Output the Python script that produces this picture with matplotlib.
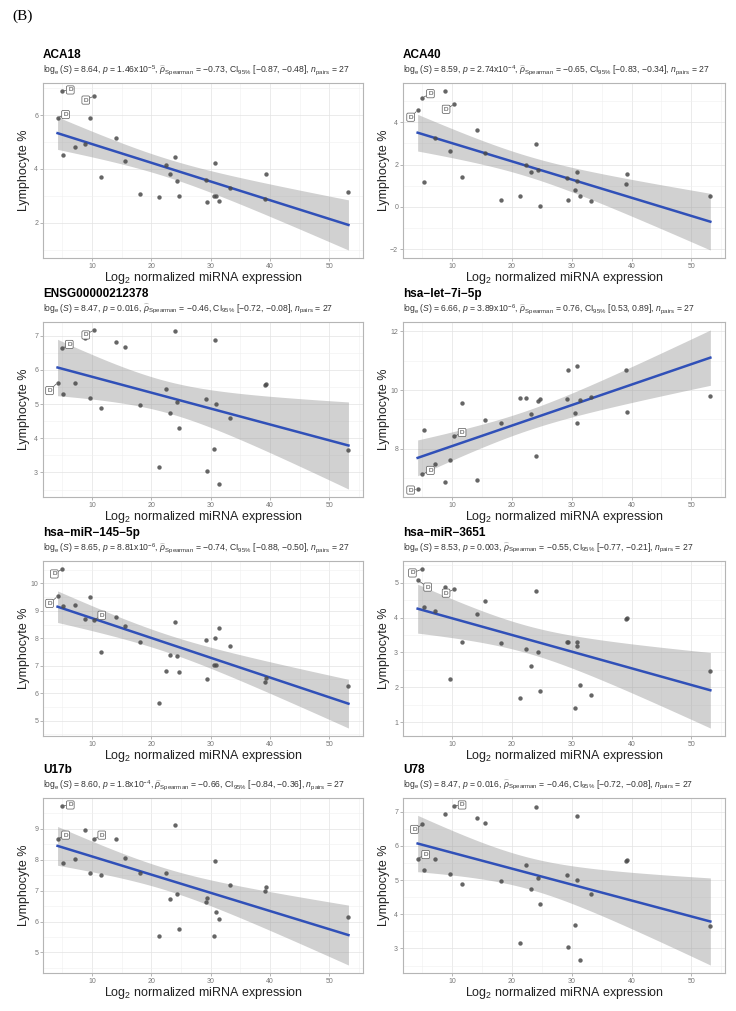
import numpy as np
import matplotlib
matplotlib.use("Agg")
import matplotlib.pyplot as plt
from matplotlib.ticker import AutoMinorLocator

plt.rcParams["font.family"] = ["Liberation Sans", "DejaVu Sans"]
plt.rcParams["mathtext.fontset"] = "custom"
plt.rcParams["mathtext.rm"] = "Liberation Sans"
plt.rcParams["mathtext.it"] = "Liberation Sans:italic"
plt.rcParams["mathtext.bf"] = "Liberation Sans:bold"

# ── data ─────────────────────────────────────────────────────────────────────
x_expr = [4.2, 5.0, 5.2, 7.1, 8.8, 9.7, 10.3, 11.6, 14.1, 15.5, 18.1, 21.3, 22.4, 23.2,
          24.0, 24.4, 24.6, 29.2, 29.4, 30.5, 30.8, 30.9, 31.4, 33.3, 39.1, 39.3, 53.2]

aca18 = [5.91, 6.90, 4.52, 4.81, 4.93, 5.89, 6.71, 3.71, 5.16, 4.29, 3.08, 2.96, 4.13, 3.80,
         4.43, 3.56, 2.98, 3.58, 2.76, 3.00, 4.24, 3.00, 2.80, 3.29, 2.90, 3.83, 3.13]
aca40 = [4.57, 5.16, 1.17, 3.24, 5.48, 2.63, 4.85, 1.41, 3.63, 2.54, 0.31, 0.53, 2.00, 1.63,
         2.97, 1.72, 0.03, 1.35, 0.34, 0.80, 1.66, 1.20, 0.52, 0.30, 1.06, 1.55, 0.53]
ensg = [5.63, 6.63, 5.29, 5.62, 6.93, 5.17, 7.17, 4.88, 6.81, 6.66, 4.97, 3.17, 5.44, 4.74,
        7.14, 5.06, 4.29, 5.15, 3.04, 3.69, 6.87, 5.00, 2.66, 4.60, 5.57, 5.58, 3.66]
let7i = [6.63, 7.13, 8.65, 7.48, 6.86, 7.61, 8.42, 9.55, 6.95, 8.98, 8.87, 9.74, 9.74, 9.17,
         7.77, 9.62, 9.71, 9.69, 10.69, 9.23, 10.82, 8.87, 9.66, 9.75, 10.69, 9.27, 9.80]
mir145 = [9.53, 10.53, 9.18, 9.20, 8.70, 9.51, 8.66, 7.51, 8.76, 8.45, 7.88, 5.64, 6.81, 7.40,
          8.59, 7.34, 6.77, 7.94, 6.53, 7.02, 8.00, 7.02, 8.39, 7.71, 6.39, 6.54, 6.28]
mir3651 = [5.08, 5.40, 4.32, 4.19, 4.89, 2.24, 4.82, 3.31, 4.10, 4.49, 3.27, 1.68, 3.10, 2.60,
           4.76, 3.00, 1.90, 3.29, 3.29, 1.39, 3.31, 3.18, 2.07, 1.78, 3.96, 3.98, 2.46]
u17b = [8.66, 9.73, 7.88, 8.01, 8.96, 7.55, 8.66, 7.51, 8.66, 8.06, 7.58, 5.54, 7.58, 6.74,
        9.10, 6.88, 5.77, 6.62, 6.75, 5.54, 7.94, 6.31, 6.07, 7.18, 6.98, 7.13, 6.14]
u78 = [5.63, 6.63, 5.29, 5.62, 6.93, 5.17, 7.17, 4.88, 6.81, 6.66, 4.97, 3.17, 5.44, 4.74,
       7.14, 5.06, 4.29, 5.15, 3.04, 3.69, 6.87, 5.00, 2.66, 4.60, 5.57, 5.58, 3.66]

names = ["ACA18", "ACA40", "ENSG00000212378", "hsa\u2212let\u22127i\u22125p",
         "hsa\u2212miR\u2212145\u22125p", "hsa\u2212miR\u22123651", "U17b", "U78"]
series = [aca18, aca40, ensg, let7i, mir145, mir3651, u17b, u78]

# stats: log_e(S), p-value text, rho, CI low, CI high
log_s = ["8.64", "8.59", "8.47", "6.66", "8.65", "8.53", "8.60", "8.47"]
p_txt = ["1.46x10$^{-5}$", "2.74x10$^{-4}$", "0.016", "3.89x10$^{-6}$",
         "8.81x10$^{-6}$", "0.003", "1.8x10$^{-4}$", "0.016"]
rho = ["\u22120.73", "\u22120.65", "\u22120.46", "0.76", "\u22120.74", "\u22120.55", "\u22120.66", "\u22120.46"]
ci_lo = ["\u22120.87", "\u22120.83", "\u22120.72", "0.53", "\u22120.88", "\u22120.77", "\u22120.84", "\u22120.72"]
ci_hi = ["\u22120.48", "\u22120.34", "\u22120.08", "0.89", "\u22120.50", "\u22120.21", "\u22120.36", "\u22120.08"]
n_pairs = 27

y_ticks = [[2, 4, 6], [-2, 0, 2, 4], [3, 4, 5, 6, 7], [8, 10, 12],
           [5, 6, 7, 8, 9, 10], [1, 2, 3, 4, 5], [5, 6, 7, 8, 9], [3, 4, 5, 6, 7]]
x_ticks = [10, 20, 30, 40, 50]

# labelled ("D") points and their label offsets in pixels
label_idx = [0, 1, 6]
label_off = [
    [(8, 3), (8, 1), (-8, -4)],
    [(-7, -7), (8, 4), (-8, -5)],
    [(-8, -8), (7, 4), (-8, -5)],
    [(-7, -1), (8, 4), (8, 4)],
    [(-8, -7), (-8, -5), (8, 5)],
    [(10, -7), (-10, -4), (-8, -4)],
    [(8, 4), (8, 1), (8, 4)],
    [(8, 4), (-8, -5), (8, 1)],
]

# ── layout ───────────────────────────────────────────────────────────────────
W, H = 736, 1011
fig = plt.figure(figsize=(W / 100, H / 100), dpi=100)
col_left = [43, 403]
col_w = [320, 322]
row_top = [83, 322, 561, 798]
ax_h = 175


def fx(px):
    return px / W


def fy(py):
    return 1 - py / H


def fit_band(x, y, xs):
    n = len(x)
    b, a = np.polyfit(x, y, 1)
    yhat = a + b * x
    s = np.sqrt(np.sum((y - yhat) ** 2) / (n - 2))
    sxx = np.sum((x - x.mean()) ** 2)
    se = s * np.sqrt(1 / n + (xs - x.mean()) ** 2 / sxx)
    t = 2.0595  # t(0.975, df=25)
    fit = a + b * xs
    return fit, fit - t * se, fit + t * se


fig.text(12 / W, fy(16), "(B)", family=["Liberation Serif", "DejaVu Serif"],
         fontsize=11, va="center", ha="left")

x = np.array(x_expr)
xs = np.linspace(x.min(), x.max(), 100)
for i, (name, yv) in enumerate(zip(names, series)):
    r, c = divmod(i, 2)
    left, w, top = col_left[c], col_w[c], row_top[r]
    ax = fig.add_axes([fx(left), fy(top + ax_h), fx(w), ax_h / H])
    y = np.array(yv)
    fit, lo, hi = fit_band(x, y, xs)

    ax.fill_between(xs, lo, hi, color="#999999", alpha=0.45, lw=0, zorder=2)
    ax.plot(xs, fit, color="#3050b8", lw=1.8, zorder=3)
    ax.scatter(x, y, s=10, color="#4a4a4a", alpha=0.85, lw=0, zorder=4)

    for k, (dx, dy) in zip(label_idx, label_off[i]):
        ax.annotate("D", (x[k], y[k]), xytext=(dx * 0.72, dy * 0.72),
                    textcoords="offset points", ha="center", va="center",
                    fontsize=4.6, color="#333333", zorder=5,
                    bbox=dict(boxstyle="round,pad=0.25,rounding_size=0.2",
                              fc="white", ec="#555555", lw=0.5),
                    arrowprops=dict(arrowstyle="-", color="#555555", lw=0.5,
                                    shrinkA=0, shrinkB=1.5))

    xr = x.max() - x.min()
    ax.set_xlim(x.min() - 0.05 * xr, x.max() + 0.05 * xr)
    ymin, ymax = min(y.min(), lo.min()), max(y.max(), hi.max())
    yr = ymax - ymin
    ax.set_ylim(ymin - 0.05 * yr, ymax + 0.05 * yr)

    ax.set_xticks(x_ticks)
    ax.set_yticks(y_ticks[i])
    ax.xaxis.set_minor_locator(AutoMinorLocator(2))
    ax.yaxis.set_minor_locator(AutoMinorLocator(2))
    ax.grid(which="major", color="#e3e3e3", lw=0.5, zorder=0)
    ax.grid(which="minor", color="#f0f0f0", lw=0.4, zorder=0)
    ax.set_axisbelow(True)
    ax.tick_params(which="major", length=2, width=0.5, color="#999999",
                   labelsize=5, labelcolor="#777777", pad=1.5)
    ax.tick_params(which="minor", length=0)
    for sp in ax.spines.values():
        sp.set_color("#b5b5b5")
        sp.set_linewidth(0.8)

    fig.text(fx(left), fy(top - 28), name, fontsize=8.5, fontweight="bold",
             ha="left", va="center")
    sub = (r"$\log_{\mathrm{e}}(S)$ = " + log_s[i] + ", $p$ = " + p_txt[i] +
           r", $\widehat{\rho}_{\mathrm{Spearman}}$ = " + rho[i] +
           r", CI$_{95\%}$ [" + ci_lo[i] + ", " + ci_hi[i] +
           r"], $n_{\mathrm{pairs}}$ = " + str(n_pairs))
    fig.text(fx(left), fy(top - 13), sub, fontsize=6.2, color="#333333",
             ha="left", va="center")
    fig.text(fx(left - 19), fy(top + ax_h / 2), "Lymphocyte %", fontsize=9,
             rotation=90, ha="center", va="center", color="#222222")
    fig.text(fx(left + w / 2), fy(top + ax_h + 20), "Log$_2$ normalized miRNA expression",
             fontsize=9, ha="center", va="center", color="#222222")

fig.savefig("out.png", dpi=100)
